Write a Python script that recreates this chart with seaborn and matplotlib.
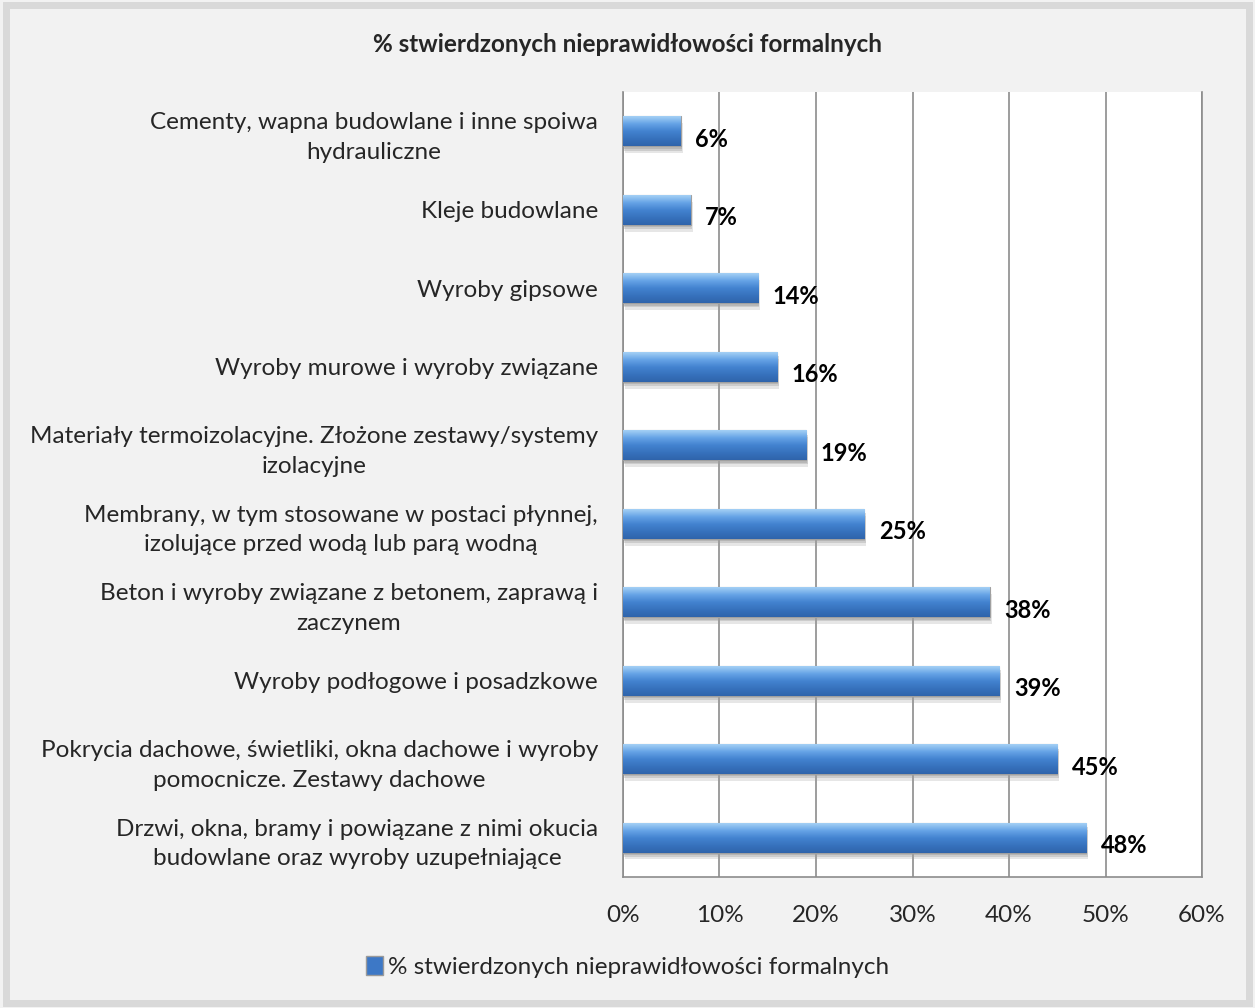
import numpy as np
import pandas as pd
import matplotlib
matplotlib.use("Agg")
import matplotlib.pyplot as plt
import matplotlib.patches as mpatches
import seaborn as sns

categories = [
    "Cementy, wapna budowlane i inne spoiwa\nhydrauliczne",
    "Kleje budowlane",
    "Wyroby gipsowe",
    "Wyroby murowe i wyroby związane",
    "Materiały termoizolacyjne. Złożone zestawy/systemy\nizolacyjne",
    "Membrany, w tym stosowane w postaci płynnej,\nizolujące przed wodą lub parą wodną",
    "Beton i wyroby związane z betonem, zaprawą i\nzaczynem",
    "Wyroby podłogowe i posadzkowe",
    "Pokrycia dachowe, świetliki, okna dachowe i wyroby\npomocnicze. Zestawy dachowe",
    "Drzwi, okna, bramy i powiązane z nimi okucia\nbudowlane oraz wyroby uzupełniające",
]
values = [6, 7, 14, 16, 19, 25, 38, 39, 45, 48]
xticks = [0, 10, 20, 30, 40, 50, 60]
series_name = "% stwierdzonych nieprawidłowości formalnych"

df = pd.DataFrame({"kategoria": categories, "proc": values})

sns.set_style("white")
plt.rcParams["font.family"] = ["Lato", "DejaVu Sans"]

bg = "#f2f2f2"
fs = 17.5
fig = plt.figure(figsize=(12.55, 10.08), dpi=100, facecolor=bg)
ax = fig.add_axes([0.4964, 0.13, 0.4614, 0.7787])
ax.set_facecolor("white")

sns.barplot(data=df, x="proc", y="kategoria", orient="h", color="#3d78c6",
            width=0.38, ax=ax, zorder=3, edgecolor="#a0a0a0", linewidth=0.8)

# gradient fill + soft shadow for the 3D look
grad = np.linspace(0, 1, 64).reshape(-1, 1)
cmap = matplotlib.colors.LinearSegmentedColormap.from_list(
    "bar", ["#a4d0f5", "#66a3e6", "#4383d0", "#3772bd", "#2f64ab"])
for p in list(ax.patches):
    x0, y0, w, h = p.get_x(), p.get_y(), p.get_width(), p.get_height()
    for k, a in [(0.35, 0.25), (0.22, 0.35), (0.12, 0.45)]:
        sh = mpatches.Rectangle((x0 + k * 0.6, y0 + k * 0.25), w, h, facecolor="#9e9e9e",
                                edgecolor="none", zorder=2, alpha=a)
        ax.add_patch(sh)
    im = ax.imshow(grad, cmap=cmap, aspect="auto", extent=[x0, x0 + w, y0 + h, y0],
                   zorder=3.5, interpolation="bicubic")
    im.set_clip_path(p)
    ax.text(x0 + w + 1.5, y0 + h / 2 + 0.1, f"{w:.0f}%", ha="left", va="center",
            fontsize=17, fontweight="bold", color="black", zorder=5)

ax.set_xlim(0, 60)
ax.set_ylim(9.5, -0.5)
ax.set_xticks(xticks)
ax.set_xticklabels([f"{t}%" for t in xticks])
ax.grid(axis="x", color="#8c8c8c", lw=1.2, zorder=0)
ax.set_axisbelow(True)
ax.set_xlabel("")
ax.set_ylabel("")
ax.spines["top"].set_visible(False)
for s in ["left", "right", "bottom"]:
    ax.spines[s].set_color("#8c8c8c")
    ax.spines[s].set_linewidth(1.2)
ax.tick_params(axis="x", length=0, pad=20, labelsize=fs)
ax.tick_params(axis="y", length=0, pad=18, labelsize=fs)
for lab in ax.get_yticklabels():
    lab.set_multialignment("center")
    lab.set_linespacing(1.5)

fig.text(0.5, 1 - 45 / 1008, series_name, ha="center", va="center",
         fontsize=17.5, fontweight="bold")

handle = mpatches.Patch(facecolor="#3d78c6", edgecolor="#9a9a9a", label=series_name)
fig.legend(handles=[handle], loc="center", bbox_to_anchor=(0.5, 1 - 967 / 1008),
           frameon=False, fontsize=fs, handlelength=0.7, handleheight=0.8,
           handletextpad=0.2)

# outer border of the chart
fig.patches.append(mpatches.Rectangle((0.005, 0.005), 0.99, 0.99, transform=fig.transFigure,
                                      fill=False, edgecolor="#d9d9d9", lw=5))

fig.savefig("out.png", dpi=100, facecolor=bg)
